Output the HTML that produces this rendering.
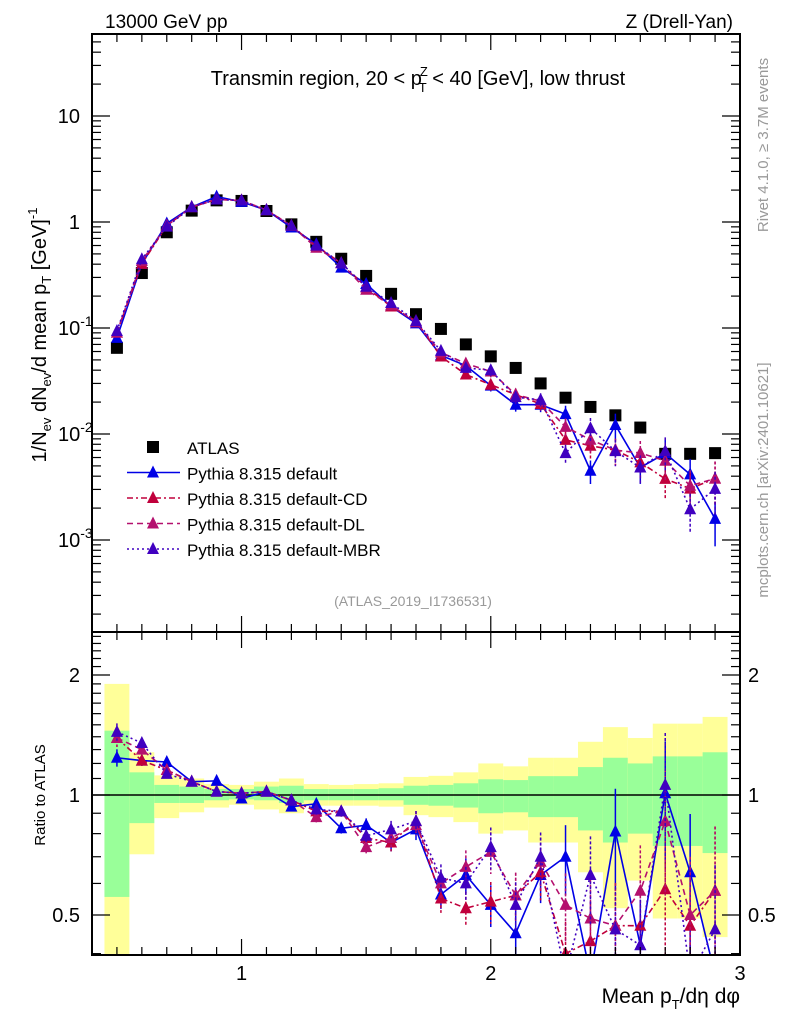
<!DOCTYPE html>
<html><head><meta charset="utf-8"><style>
html,body{margin:0;padding:0;background:#fff;width:786px;height:1024px;overflow:hidden}
svg{display:block;font-family:"Liberation Sans",sans-serif;overflow:hidden}
</style></head><body>
<svg id="c" width="786" height="1024" viewBox="0 0 786 1024" xmlns="http://www.w3.org/2000/svg">
<g id="bands"></g>
<g id="marks"></g>
<g id="axes"></g>
<text x="105" y="28" font-size="19">13000 GeV pp</text>
<text x="733" y="28" font-size="19" text-anchor="end">Z (Drell-Yan)</text>
<text x="418" y="85" font-size="20" text-anchor="middle">Transmin region, 20 &lt; p<tspan font-size="13" dy="-9" dx="-2">Z</tspan><tspan font-size="13" dy="16" dx="-9">T</tspan><tspan dy="-7"> &lt; 40 [GeV], low thrust</tspan></text>
<text x="413" y="606" font-size="14" fill="#999" text-anchor="middle">(ATLAS_2019_I1736531)</text>
<text transform="translate(768,145) rotate(-90)" font-size="15" fill="#999" text-anchor="middle">Rivet 4.1.0, ≥ 3.7M events</text>
<text transform="translate(768,480) rotate(-90)" font-size="15" fill="#999" text-anchor="middle">mcplots.cern.ch [arXiv:2401.10621]</text>
<text transform="translate(46,335) rotate(-90)" font-size="20" text-anchor="middle">1/N<tspan font-size="13" dy="5">ev</tspan><tspan dy="-5"> dN</tspan><tspan font-size="13" dy="5">ev</tspan><tspan dy="-5">/d mean p</tspan><tspan font-size="13" dy="5">T</tspan><tspan dy="-5"> [GeV]</tspan><tspan font-size="13" dy="-9">-1</tspan></text>
<text transform="translate(45,795) rotate(-90)" font-size="15" text-anchor="middle">Ratio to ATLAS</text>
<text x="740" y="1003" font-size="21" text-anchor="end">Mean p<tspan font-size="13" dy="6">T</tspan><tspan dy="-6">/dη dφ</tspan></text>
<g id="legend"></g>
</svg>
<script>
const xs=[0.5,0.6,0.7,0.8,0.9,1.0,1.1,1.2,1.3,1.4,1.5,1.6,1.7,1.8,1.9,2.0,2.1,2.2,2.3,2.4,2.5,2.6,2.7,2.8,2.9];
const atlas=[0.065,0.33,0.8,1.28,1.6,1.58,1.27,0.95,0.65,0.45,0.31,0.21,0.135,0.098,0.07,0.054,0.042,0.030,0.022,0.018,0.015,0.0115,0.0065,0.0065,0.0066];
const rDefault=[1.24,1.22,1.21,1.08,1.085,0.98,1.02,0.935,0.95,0.825,0.84,0.76,0.82,0.563,0.63,0.53,0.45,0.63,0.70,0.25,0.81,0.42,1.01,0.64,0.24];
const rCD=[1.39,1.22,1.155,1.08,1.02,1.01,1.02,0.97,0.91,0.91,0.78,0.76,0.86,0.55,0.52,0.54,0.56,0.64,0.40,0.43,0.47,0.47,0.58,0.47,0.575];
const rDL=[1.39,1.3,1.155,1.08,1.02,1.01,1.02,0.97,0.88,0.91,0.74,0.78,0.84,0.60,0.66,0.72,0.56,0.68,0.53,0.49,0.47,0.575,0.86,0.50,0.575];
const rMBR=[1.44,1.35,1.13,1.08,1.02,1.01,1.02,0.97,0.92,0.91,0.79,0.82,0.86,0.62,0.60,0.74,0.53,0.70,0.30,0.63,0.46,0.42,1.06,0.30,0.46];
const relErr=[0.05,0.03,0.02,0.02,0.02,0.02,0.02,0.02,0.03,0.03,0.04,0.05,0.06,0.08,0.1,0.12,0.14,0.15,0.2,0.25,0.28,0.3,0.35,0.4,0.45];
const greenUp=[1.45,1.14,1.06,1.05,1.035,1.035,1.05,1.055,1.035,1.035,1.035,1.04,1.055,1.06,1.07,1.095,1.09,1.115,1.115,1.175,1.24,1.20,1.25,1.25,1.28];
const greenDn=[0.555,0.85,0.955,0.955,0.97,0.975,0.97,0.955,0.97,0.97,0.97,0.97,0.945,0.94,0.93,0.90,0.905,0.88,0.88,0.815,0.76,0.80,0.745,0.745,0.715];
const yellowUp=[1.90,1.28,1.12,1.10,1.065,1.06,1.08,1.10,1.065,1.06,1.065,1.07,1.11,1.117,1.14,1.20,1.18,1.24,1.24,1.36,1.48,1.39,1.51,1.51,1.57];
const yellowDn=[0.30,0.71,0.875,0.905,0.93,0.945,0.92,0.90,0.94,0.94,0.94,0.935,0.89,0.88,0.855,0.80,0.815,0.76,0.76,0.64,0.52,0.61,0.49,0.49,0.44];
const xTickLabels=["1","2","3"];
const yTickLabels=["10","1","10","10"];
const ratioTickLabels=["2","1","0.5"];

const NS="http://www.w3.org/2000/svg";
const L=92,R=740,T=34,B=632,RB=955;
const X=v=>L+(v-0.4)*(R-L)/2.6;
const Y=v=>222-106*Math.log10(v);
const RY=v=>795-398.6*Math.log10(v);
const cl=(y,a,b)=>Math.min(Math.max(y,a),b);
function mk(tag,attrs,parent){const e=document.createElementNS(NS,tag);for(const k in attrs)e.setAttribute(k,attrs[k]);parent.appendChild(e);return e;}
const bands=document.getElementById('bands'),marks=document.getElementById('marks'),axes=document.getElementById('axes'),leg=document.getElementById('legend');
const clipR=mk('clipPath',{id:'cr'},document.getElementById('c'));mk('rect',{x:L,y:B,width:R-L,height:RB-B},clipR);
const clipM=mk('clipPath',{id:'cm'},document.getElementById('c'));mk('rect',{x:L,y:T,width:R-L,height:B-T},clipM);
xs.forEach((x,i)=>{
  const x0=X(x-0.05),x1=X(x+0.05);
  const yt=cl(RY(yellowUp[i]),B,RB),yb=cl(RY(yellowDn[i]),B,RB);
  const y=mk('rect',{x:x0,y:yt,width:x1-x0,height:yb-yt,fill:'#ffff99'},bands);
  
  
  const gt=cl(RY(greenUp[i]),B,RB),gb=cl(RY(greenDn[i]),B,RB);
  const g=mk('rect',{x:x0,y:gt,width:x1-x0,height:gb-gt,fill:'#99ff99'},bands);
  
  
});
const ref=mk('line',{x1:L,x2:R,y1:RY(1),y2:RY(1),stroke:'#000','stroke-width':1.5},bands);



const series=[
 {name:'default',r:rDefault,col:'#0000e6',dash:'none',label:'Pythia 8.315 default'},
 {name:'default-cd',r:rCD,col:'#c0003c',dash:'6,3,2,3',label:'Pythia 8.315 default-CD'},
 {name:'default-dl',r:rDL,col:'#b4106e',dash:'6,4',label:'Pythia 8.315 default-DL'},
 {name:'default-mbr',r:rMBR,col:'#4000c0',dash:'2,3',label:'Pythia 8.315 default-MBR'}];
function tri(g,cx,cy,col,n){const p=mk('polygon',{points:`${cx},${cy-7} ${cx-6},${cy+5} ${cx+6},${cy+5}`,fill:col},g);}
const gm=mk('g',{'clip-path':'url(#cm)'},marks);
const gr=mk('g',{'clip-path':'url(#cr)'},marks);
xs.forEach((x,i)=>{const s=mk('rect',{x:X(x)-6,y:Y(atlas[i])-6,width:12,height:12,fill:'#000'},gm);
  
  });
series.forEach(s=>{
  const mv=xs.map((x,i)=>atlas[i]*s.r[i]);
  const gg=mk('g',{},gm);
  const g2=mk('g',{},gr);
  const ln=mk('polyline',{points:xs.map((x,i)=>X(x)+','+Y(mv[i])).join(' '),fill:'none',stroke:s.col,'stroke-width':1.6,'stroke-dasharray':s.dash},gg);
  
  const lr=mk('polyline',{points:xs.map((x,i)=>X(x)+','+cl(RY(s.r[i]),B-20,RB+20)).join(' '),fill:'none',stroke:s.col,'stroke-width':1.6,'stroke-dasharray':s.dash},g2);
  
  xs.forEach((x,i)=>{
    const e=relErr[i];
    const da=s.dash==='none'?'none':'3,2';
    mk('line',{x1:X(x),x2:X(x),y1:cl(Y(mv[i]*(1+e)),T,B),y2:cl(Y(mv[i]*(1-e)),T,B),stroke:s.col,'stroke-width':1.5,'stroke-dasharray':da},gg);
    mk('line',{x1:X(x),x2:X(x),y1:cl(RY(s.r[i]*(1+e)),B,RB),y2:cl(RY(s.r[i]*(1-e)),B,RB),stroke:s.col,'stroke-width':1.5,'stroke-dasharray':da},g2);
    tri(gg,X(x),Y(mv[i]),s.col,'point-'+s.name);
    tri(g2,X(x),cl(RY(s.r[i]),B-20,RB+20),s.col,'ratio-point-'+s.name);
  });
});
[[T,B],[B,RB]].forEach(([t,b])=>mk('rect',{x:L,y:t,width:R-L,height:b-t,fill:'none',stroke:'#000','stroke-width':2},axes));
for(let k=5;k<=29;k++){const v=k/10,x=X(v),maj=(k%10===0),len=maj?16:8;
  [[T,1],[B,-1],[B,1],[RB,-1]].forEach(([y,d])=>mk('line',{x1:x,x2:x,y1:y,y2:y+d*len,stroke:'#000','stroke-width':1.2},axes));}
xTickLabels.forEach((t,i)=>{const e=mk('text',{x:X(i+1),y:980,'font-size':20,'text-anchor':'middle'},axes);e.textContent=t;
  });
for(let d=-4;d<=1;d++)for(let m=1;m<=9;m++){const v=m*Math.pow(10,d),y=Y(v);if(y<T||y>B)continue;const len=m===1?18:9;
  mk('line',{x1:L,x2:L+len,y1:y,y2:y,stroke:'#000','stroke-width':1.2},axes);mk('line',{x1:R,x2:R-len,y1:y,y2:y,stroke:'#000','stroke-width':1.2},axes);}
const decs=[[10,''],[1,''],[0.1,'-1'],[0.01,'-2'],[0.001,'-3']];
decs.forEach(([v,ex],i)=>{const y=Y(v)+7;let e;
  if(ex===''){e=mk('text',{x:80,y:y,'font-size':20,'text-anchor':'end'},axes);e.textContent=(v===10?yTickLabels[0]:yTickLabels[1]);}
  else{e=mk('text',{x:58,y:y,'font-size':20},axes);e.textContent='10';const ts=mk('tspan',{'font-size':14,dy:-9},e);ts.textContent=ex;}
  });
for(let v=0.4;v<=2.55;v+=0.1){const y=RY(v);if(y<B||y>RB)continue;const maj=Math.abs(v-0.5)<1e-6||Math.abs(v-1)<1e-6||Math.abs(v-2)<1e-6;const len=maj?18:9;
  mk('line',{x1:L,x2:L+len,y1:y,y2:y,stroke:'#000','stroke-width':1.2},axes);mk('line',{x1:R,x2:R-len,y1:y,y2:y,stroke:'#000','stroke-width':1.2},axes);}
[2,1,0.5].forEach((v,i)=>{const a=mk('text',{x:80,y:RY(v)+7,'font-size':20,'text-anchor':'end'},axes);a.textContent=ratioTickLabels[i];
  
  const b=mk('text',{x:748,y:RY(v)+7,'font-size':20},axes);b.textContent=ratioTickLabels[i];
  });
const ly0=447;
const sq=mk('rect',{x:147,y:ly0-6,width:12,height:12,fill:'#000'},leg);

const t0=mk('text',{x:187,y:ly0+7,'font-size':17},leg);t0.textContent='ATLAS';

series.forEach((s,i)=>{const y=ly0+25.5*(i+1);
  const g=mk('g',{},leg);
  mk('line',{x1:127,x2:180,y1:y,y2:y,stroke:s.col,'stroke-width':1.6,'stroke-dasharray':s.dash},g);
  tri(g,153,y,s.col,'legend-marker');
  const t=mk('text',{x:187,y:y+7,'font-size':17},g);t.textContent=s.label;});
</script>
</body></html>
